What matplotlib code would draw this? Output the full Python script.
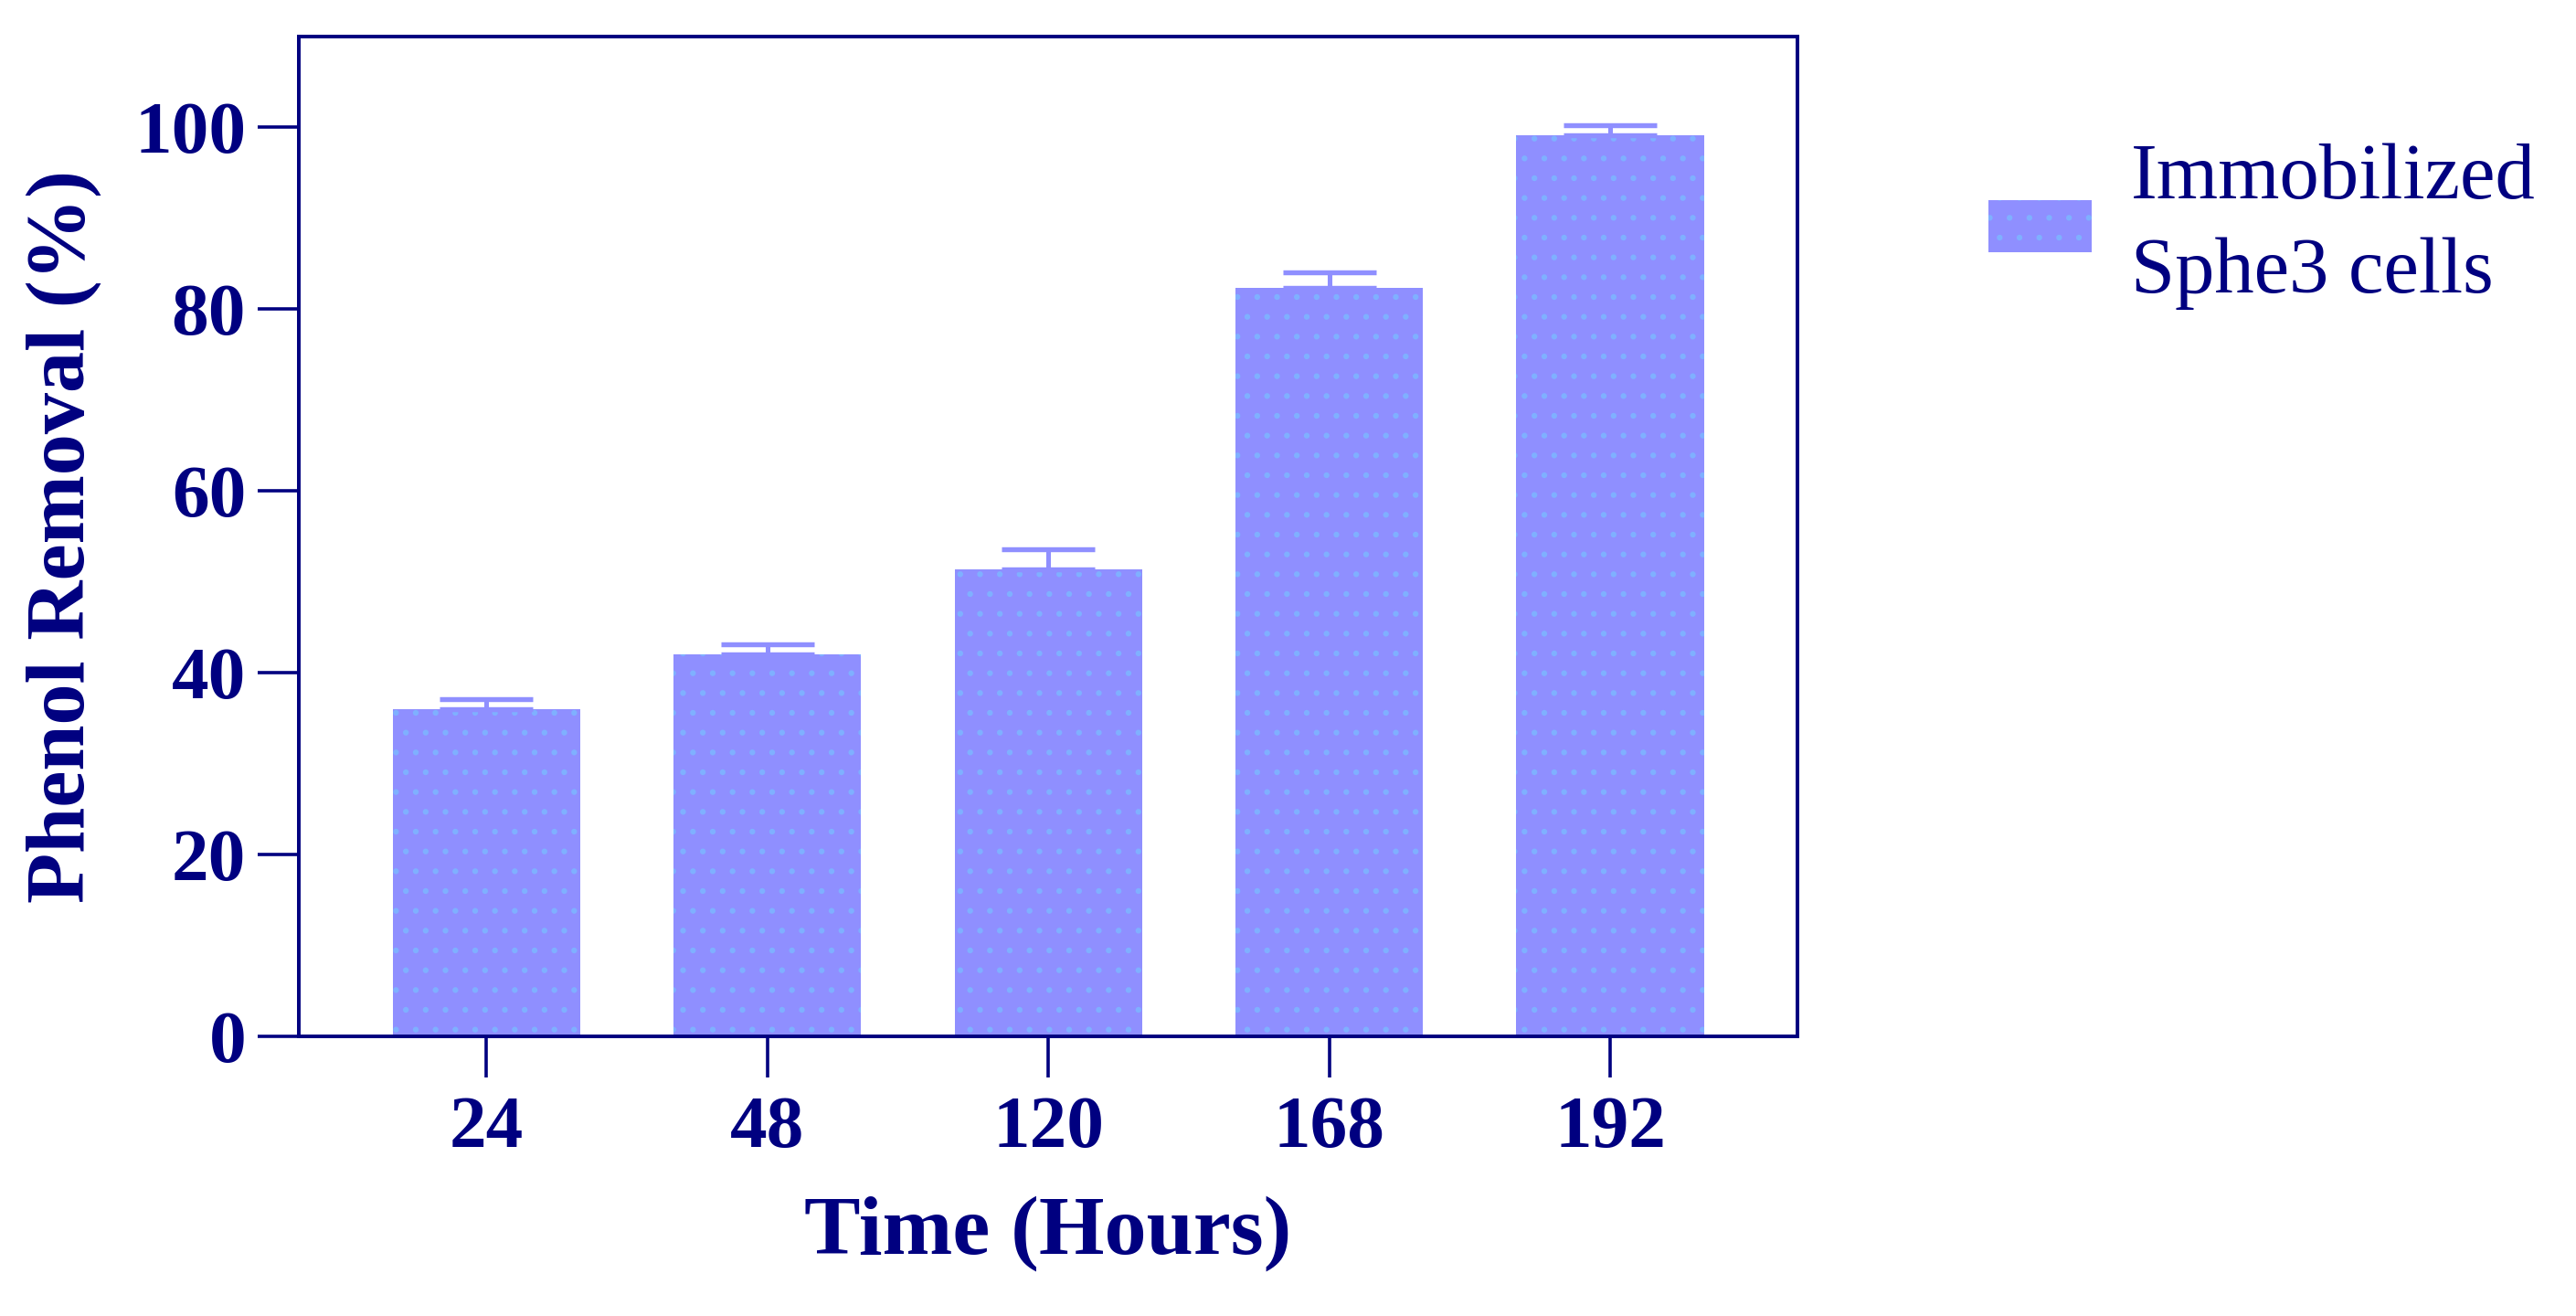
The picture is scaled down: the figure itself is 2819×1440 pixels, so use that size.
import matplotlib
matplotlib.use('Agg')
import matplotlib.pyplot as plt

# ---- data ----
categories = ['24', '48', '120', '168', '192']
removal = [36.0, 42.0, 51.4, 82.4, 99.1]
err_up = [1.1, 1.1, 2.2, 1.7, 1.1]
y_ticks = [0, 20, 40, 60, 80, 100]
series_label = 'Immobilized\nSphe3 cells'
x_label = 'Time (Hours)'
y_label = 'Phenol Removal (%)'

navy = '#000080'
bar_color = '#8F8FFF'
dot_color = '#7FB0FF'
serif = ['Liberation Serif', 'DejaVu Serif']

DPI = 130
plt.rcParams['hatch.linewidth'] = 1.1
fig = plt.figure(figsize=(2819 / DPI, 1440 / DPI), dpi=DPI)
ax = fig.add_axes([0.116, 0.2125, 0.5818, 0.7597])

x = list(range(len(categories)))
bars = ax.bar(x, removal, width=0.667, color=bar_color, edgecolor=dot_color,
              linewidth=0, hatch='.', label=series_label, zorder=2)
ax.errorbar(x, removal, yerr=[[0] * len(err_up), err_up], fmt='none',
            ecolor=bar_color, elinewidth=2.8, capsize=28, capthick=3.0, zorder=3)

ax.set_xlim(-0.667, 4.667)
ax.set_ylim(0, 110)
ax.set_xticks(x)
ax.set_xticklabels(categories)
ax.set_yticks(y_ticks)

for s in ax.spines.values():
    s.set_color(navy)
    s.set_linewidth(2.2)

ax.tick_params(axis='both', colors=navy, width=2.0, length=25, direction='out')
ax.tick_params(axis='x', pad=11)
ax.tick_params(axis='y', pad=7)
for lab in ax.get_xticklabels() + ax.get_yticklabels():
    lab.set_fontfamily(serif)
    lab.set_fontweight('bold')
    lab.set_fontsize(45)
    lab.set_color(navy)

ax.set_xlabel(x_label, fontfamily=serif, fontweight='bold', fontsize=51,
              color=navy, labelpad=20)
ax.set_ylabel(y_label, fontfamily=serif, fontweight='bold', fontsize=50,
              color=navy, labelpad=20)

leg = fig.legend(handles=[bars], loc='center left', bbox_to_anchor=(0.772, 0.828),
                 frameon=False, prop={'family': serif, 'size': 48},
                 handlelength=1.3, handleheight=0.65, handletextpad=0.5,
                 borderpad=0, borderaxespad=0, labelcolor=navy)
for t in leg.get_texts():
    t.set_linespacing(1.4)

fig.savefig('out.png', dpi=DPI, facecolor='white')
